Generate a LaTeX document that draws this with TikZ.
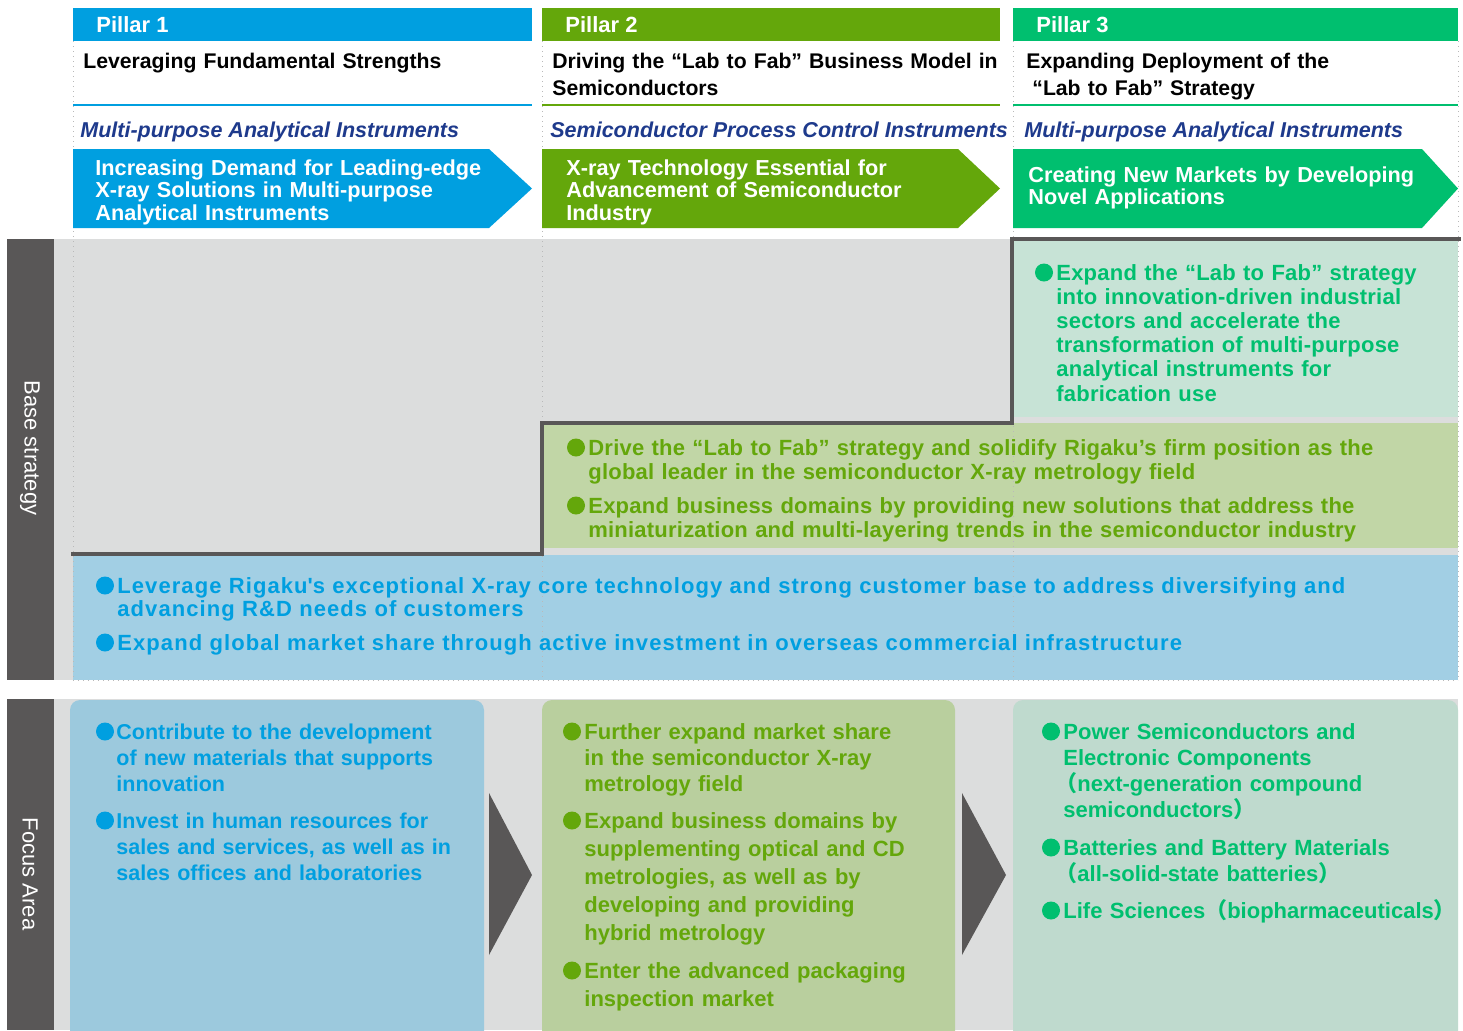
\documentclass[tikz,border=0pt]{standalone}
\usepackage{fontspec}
\setmainfont{Liberation Sans}
\newfontfamily\cjkparen{Noto Sans CJK JP}
\usetikzlibrary{positioning, calc}

\definecolor{pblue}{HTML}{009FE0}
\definecolor{pgreen}{HTML}{64A70B}
\definecolor{pmint}{HTML}{00BF6F}
\definecolor{navy}{HTML}{1E3A8C}
\definecolor{bargrey}{HTML}{595757}
\definecolor{bggrey}{HTML}{DCDDDD}
\definecolor{lblue}{HTML}{A2CFE4}
\definecolor{lgreen}{HTML}{C1D6A6}
\definecolor{lmint}{HTML}{C7E3D6}
\definecolor{fblue}{HTML}{9CC9DD}
\definecolor{fgreen}{HTML}{B9CF9E}
\definecolor{fmint}{HTML}{BFDACE}

\newcommand{\lp}{{\cjkparen （}}
\newcommand{\rp}{{\cjkparen ）}}

\begin{document}
\begin{tikzpicture}[x=0.5pt, y=-0.5pt, % one unit = one pixel, y pointing down
  txt/.style={anchor=base west, inner sep=0pt, align=left},
  pillar/.style={txt, text=white, font=\bfseries\fontsize{11}{13}\selectfont},
  heading/.style={txt, text width=235pt, font=\bfseries\fontsize{10.6}{13.5}\selectfont},
  field/.style={txt, text=navy, font=\bfseries\itshape\fontsize{10.75}{13}\selectfont},
  banner/.style={txt, text width=225pt, text=white, font=\bfseries\fontsize{10.85}{11.25}\selectfont},
  basetext/.style={txt, font=\bfseries\fontsize{11}{#1}\selectfont\addfontfeature{LetterSpace=1}},
  widebase/.style={txt, font=\bfseries\fontsize{11}{11.75}\selectfont\addfontfeature{LetterSpace=4.9}},
  focustext/.style 2 args={txt, text width=220pt, font=\bfseries\fontsize{#1}{#2}\selectfont},
  sidelabel/.style={text=white, rotate=-90, font=\fontsize{11}{13}\selectfont},
  gridline/.style={gray!55, dotted, line width=0.5pt},
  stepline/.style={bargrey, line width=2pt}]
  \clip (0,0) rectangle (1463,1030);
  \fill[white] (0,0) rectangle (1463,1030);

  % Base strategy band
  \fill[bggrey] (53,239) rectangle (1458,680);
  \fill[bargrey] (7,239) rectangle (54,680);
  \fill[lmint] (1013,240) rectangle (1458,417);
  \fill[lgreen] (542,423) rectangle (1458,548);
  \fill[lblue] (73,555) rectangle (1458,680);

  % Column guides
  \foreach \gx in {73,542,1013,1458}
    \draw[gridline] (\gx,41) -- (\gx,680);
  \draw[gridline] (73,680) -- (1458,680);

  % Steps
  \draw[stepline] (71,554) -- (542,554) -- (542,423) -- (1012,423) -- (1012,239) -- (1461,239);

  % Pillar heads
  \fill[pblue] (73,8) rectangle (532,41);
  \fill[pgreen] (542,8) rectangle (1000,41);
  \fill[pmint] (1013,8) rectangle (1458,41);
  \draw[pblue, line width=0.8pt] (73,105) -- (532,105);
  \draw[pgreen, line width=0.8pt] (542,105) -- (1000,105);
  \draw[pmint, line width=0.8pt] (1013,105) -- (1458,105);
  \fill[pblue] (73,149) -- (489,149) -- (532,188.5) -- (489,228) -- (73,228) -- cycle;
  \fill[pgreen] (542,149) -- (958,149) -- (1000,188.5) -- (958,228) -- (542,228) -- cycle;
  \fill[pmint] (1013,149) -- (1422,149) -- (1458,188.5) -- (1422,228) -- (1013,228) -- cycle;

  \node[pillar] (pillar1) at (96,32) {Pillar 1};
  \node[pillar] (pillar2) at (565,32) {Pillar 2};
  \node[pillar] (pillar3) at (1036,32) {Pillar 3};
  \node[heading] (head1) at (83,68) {Leveraging Fundamental Strengths};
  \node[heading] (head2) at (552,68) {Driving the “Lab to Fab” Business Model in\\Semiconductors};
  \node[heading] (head3) at (1026,68) {Expanding Deployment of the\\\hspace*{3pt}“Lab to Fab” Strategy};
  \node[field] (field1) at (80,137) {Multi-purpose Analytical Instruments};
  \node[field] (field2) at (550,137) {Semiconductor Process Control Instruments};
  \node[field] (field3) at (1024,137) {Multi-purpose Analytical Instruments};
  \node[banner] (banner1) at (95,175) {Increasing Demand for Leading-edge\\X-ray Solutions in Multi-purpose\\Analytical Instruments};
  \node[banner] (banner2) at (566,175) {X-ray Technology Essential for\\Advancement of Semiconductor\\Industry};
  \node[banner] (banner3) at (1028,182) {Creating New Markets by Developing\\Novel Applications};

  % Base strategy texts
  \node[sidelabel] (baselabel) at (30,448) {Base strategy};
  \fill[pmint] (1044,272.5) circle (4.5pt);
  \node[basetext=12.1, text=pmint, text width=215pt] (base3) at (1056,280)
    {Expand the “Lab to Fab” strategy\\into innovation-driven industrial\\sectors and accelerate the\\transformation of multi-purpose\\analytical instruments for\\fabrication use};
  \fill[pgreen] (576,447.5) circle (4.5pt);
  \fill[pgreen] (576,505.5) circle (4.5pt);
  \node[basetext=12.25, text=pgreen, text width=440pt] (base2a) at (588,455)
    {Drive the “Lab to Fab” strategy and solidify Rigaku’s firm position as the\\global leader in the semiconductor X-ray metrology field};
  \node[basetext=12.25, text=pgreen, text width=440pt] (base2b) at (588,513)
    {Expand business domains by providing new solutions that address the\\miniaturization and multi-layering trends in the semiconductor industry};
  \fill[pblue] (105,585.5) circle (4.5pt);
  \fill[pblue] (105,642.5) circle (4.5pt);
  \node[widebase, text=pblue, text width=675pt] (base1a) at (117,593)
    {Leverage Rigaku\textquotesingle s exceptional X-ray core technology and strong customer base to address diversifying and\\advancing R\&D needs of customers};
  \node[widebase, text=pblue, text width=675pt] (base1b) at (117,650)
    {Expand global market share through active investment in overseas commercial infrastructure};

  % Focus area band
  \fill[bggrey] (53,699) rectangle (1458,1030);
  \fill[bargrey] (7,699) rectangle (54,1030);
  \fill[fblue, rounded corners=5pt] (70,700) rectangle (484,1050);
  \fill[fgreen, rounded corners=5pt] (542,700) rectangle (955,1050);
  \fill[fmint, rounded corners=5pt] (1013,700) rectangle (1458,1050);
  \fill[bargrey] (489,793) -- (532,875) -- (489,955) -- cycle;
  \fill[bargrey] (962,793) -- (1006,875) -- (962,955) -- cycle;
  \node[sidelabel] (focuslabel) at (30,874) {Focus Area};

  \fill[pblue] (105,731.5) circle (4.5pt);
  \fill[pblue] (105,820.5) circle (4.5pt);
  \node[focustext={10.75}{13}, text=pblue] (focus1a) at (116,739)
    {Contribute to the development\\of new materials that supports\\innovation};
  \node[focustext={10.75}{13}, text=pblue] (focus1b) at (116,828)
    {Invest in human resources for\\sales and services, as well as in\\sales offices and laboratories};

  \fill[pgreen] (572,731.5) circle (4.5pt);
  \fill[pgreen] (572,820.5) circle (4.5pt);
  \fill[pgreen] (572,970.5) circle (4.5pt);
  \node[focustext={11}{13}, text=pgreen] (focus2a) at (584,739)
    {Further expand market share\\in the semiconductor X-ray\\metrology field};
  \node[focustext={11}{14.1}, text=pgreen] (focus2b) at (584,828)
    {Expand business domains by\\supplementing optical and CD\\metrologies, as well as by\\developing and providing\\hybrid metrology};
  \node[focustext={11}{14}, text=pgreen] (focus2c) at (584,978)
    {Enter the advanced packaging\\inspection market};

  \fill[pmint] (1051,731.5) circle (4.5pt);
  \fill[pmint] (1051,847.5) circle (4.5pt);
  \fill[pmint] (1051,910.5) circle (4.5pt);
  \node[focustext={11}{13}, text=pmint] (focus3a) at (1063,739)
    {Power Semiconductors and\\Electronic Components\\\hspace*{-4pt}\lp next-generation compound\\semiconductors\rp};
  \node[focustext={11}{13}, text=pmint] (focus3b) at (1063,855)
    {Batteries and Battery Materials\\\hspace*{-4pt}\lp all-solid-state batteries\rp};
  \node[focustext={11}{13}, text=pmint] (focus3c) at (1063,918)
    {Life Sciences\lp biopharmaceuticals\rp};
\end{tikzpicture}
\end{document}
